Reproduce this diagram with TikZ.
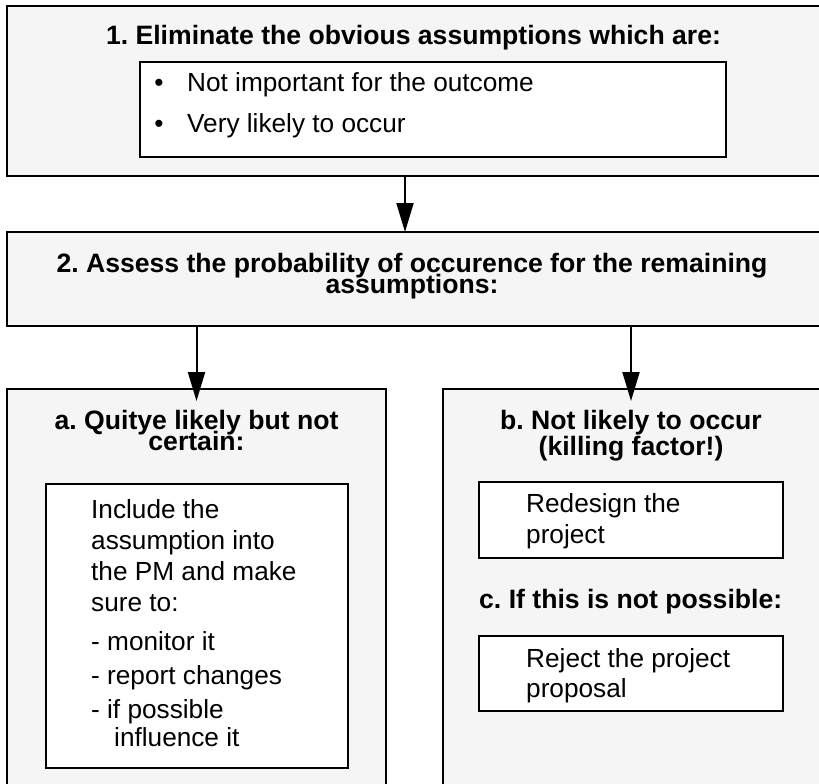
\documentclass[tikz,border=0pt]{standalone}
\usepackage{fontspec}
\setmainfont{Liberation Sans}
\usetikzlibrary{arrows.meta}
\definecolor{panelfill}{HTML}{F5F5F5}
\begin{document}
\frenchspacing
\begin{tikzpicture}[x=1pt,y=-1pt,
  panel/.style={draw=black,line width=2pt,fill=panelfill,rectangle,inner sep=0pt,outer sep=0pt},
  card/.style={draw=black,line width=2pt,fill=white,rectangle,inner sep=0pt,outer sep=0pt},
  head/.style={font=\bfseries\fontsize{26.6}{30}\selectfont,inner sep=0pt,anchor=base},
  body/.style={font=\fontsize{26.2}{30}\selectfont,inner sep=0pt,anchor=base west},
  flow/.style={line width=2pt,-{Triangle[length=29pt,width=17pt]}}]
\useasboundingbox (0,0) rectangle (819,784);
\fill[white] (0,0) rectangle (819,784);

% step 1
\node[panel,minimum width=813pt,minimum height=169.5pt] (s1) at (413.5,90.75) {};
\node[head] (t1) at (413.5,45) {1. Eliminate the obvious assumptions which are:};
\node[card,minimum width=586pt,minimum height=95pt] (c1) at (433,109.5) {};
\node[body,anchor=base] (b1) at (159,92) {•};
\node[body] (i1) at (187,92) {Not important for the outcome};
\node[body,anchor=base] (b2) at (159,132) {•};
\node[body] (i2) at (187,132) {Very likely to occur};

% step 2
\node[panel,minimum width=813pt,minimum height=94pt] (s2) at (413.5,279) {};
\node[head] (t2a) at (412,272) {2. Assess the probability of occurence for the remaining};
\node[head] (t2b) at (412,293) {assumptions:};

% branch a
\node[panel,minimum width=379pt,minimum height=401pt,anchor=north west] (sa) at (7,389) {};
\node[head] (ta1) at (196.5,429.5) {a. Quitye likely but not};
\node[head] (ta2) at (196.5,450.5) {certain:};
\node[card,minimum width=302pt,minimum height=284pt,anchor=north west] (ca) at (46,484) {};
\node[body] (l1) at (91,518) {Include the};
\node[body] (l2) at (91,549) {assumption into};
\node[body] (l3) at (91,580) {the PM and make};
\node[body] (l4) at (91,611) {sure to:};
\node[body] (l5) at (91,650) {- monitor it};
\node[body] (l6) at (91,684) {- report changes};
\node[body] (l7) at (91,718) {- if possible};
\node[body] (l8) at (114,746) {influence it};

% branch b / c
\node[panel,minimum width=377pt,minimum height=401pt,anchor=north west] (sb) at (443,389) {};
\node[head] (tb1) at (631,429.5) {b. Not likely to occur};
\node[head] (tb2) at (631,455) {(killing factor!)};
\node[card,minimum width=304pt,minimum height=76pt,anchor=north west] (cb) at (479,482) {};
\node[body] (r1) at (526,512) {Redesign the};
\node[body] (r2) at (526,543) {project};
\node[head,anchor=base west] (tc) at (479,608) {c. If this is not possible:};
\node[card,minimum width=304pt,minimum height=75pt,anchor=north west] (cc) at (479,636) {};
\node[body] (j1) at (526,667) {Reject the project};
\node[body] (j2) at (526,697) {proposal};

% connectors
\draw[flow] (s1.south -| 405,0) -- (s2.north -| 405,0);
\draw[flow,shorten >=-12pt] (s2.south -| sa.north) -- (sa.north);
\draw[flow,shorten >=-12pt] (s2.south -| tb1) -- (sb.north -| tb1);
\end{tikzpicture}
\end{document}
